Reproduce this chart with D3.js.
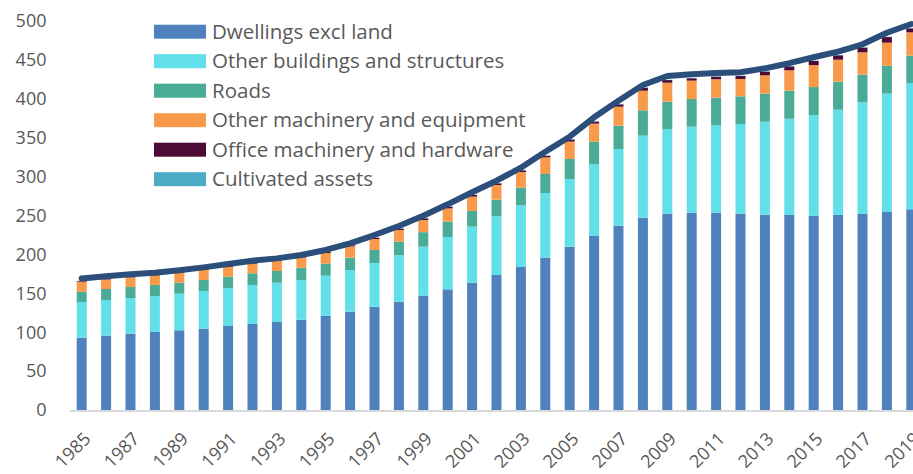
<!DOCTYPE html>
<meta charset="utf-8">
<style>
body { margin: 0; background: #fff; }
svg { display: block; overflow: hidden; }
text { font-family: "Open Sans", sans-serif; fill: #595959; }
</style>
<svg width="913" height="474"></svg>
<script src="https://cdn.jsdelivr.net/npm/d3@7"></script>
<script>

var years = d3.range(1985, 2020);

var dwellings = [93.0, 95.6, 98.2, 100.3, 102.5, 104.6, 108.0, 110.6, 113.2, 116.1, 121.3, 126.4,
  132.9, 139.3, 147.0, 155.2, 163.7, 173.6, 183.9, 195.9, 210.0, 223.8, 237.1, 247.4, 252.5,
  253.7, 253.7, 252.5, 251.2, 250.8, 249.9, 250.8, 252.1, 254.6, 258.1];
var otherBuildings = [45.9, 45.9, 45.8, 46.3, 47.1, 48.4, 48.9, 50.2, 50.5, 51.1, 51.4, 53.6,
  56.1, 60.0, 63.0, 67.3, 72.1, 75.5, 79.3, 83.2, 87.1, 92.5, 98.5, 105.4, 108.9,
  110.7, 112.4, 115.3, 119.6, 123.8, 129.5, 135.4, 143.7, 152.3, 162.4];
var roads = [13.3, 14.1, 14.2, 14.2, 14.1, 14.2, 14.6, 15.0, 15.1, 15.8, 15.5, 15.9,
  16.8, 17.2, 18.7, 19.7, 20.1, 21.4, 22.7, 24.4, 25.7, 28.7, 30.0, 32.6, 35.2,
  35.6, 35.6, 35.6, 36.1, 36.0, 35.9, 36.0, 35.5, 35.9, 35.2];
var otherMachinery = [12.8, 12.4, 12.4, 12.4, 12.5, 12.8, 12.8, 12.4, 13.2, 13.4, 13.7, 14.6,
  14.1, 15.0, 15.6, 17.1, 18.5, 18.9, 20.2, 21.4, 22.4, 23.3, 24.5, 25.2, 24.3,
  23.6, 23.6, 22.3, 23.5, 26.2, 28.2, 28.3, 28.7, 29.6, 30.0];
var officeMachinery = [0.8, 0.8, 0.9, 0.9, 1.0, 1.0, 1.1, 1.1, 1.2, 1.2, 1.3, 1.4,
  1.5, 1.7, 2.2, 2.2, 2.1, 2.1, 2.1, 2.0, 2.6, 2.5, 3.0, 3.8, 3.4,
  3.0, 3.4, 3.8, 4.7, 5.1, 5.3, 5.7, 6.0, 7.2, 5.1];
var cultivated = [0.4, 0.4, 0.4, 0.4, 0.4, 0.4, 0.4, 0.4, 0.4, 0.4, 0.4, 0.4,
  0.4, 0.4, 0.4, 0.4, 0.4, 0.4, 0.4, 0.4, 0.4, 0.4, 0.4, 0.4, 0.4,
  0.4, 0.4, 0.4, 0.4, 0.4, 0.4, 0.4, 0.4, 0.4, 0.4];
var total = [169, 172, 174.5, 176.6, 179.6, 183.4, 187.8, 192, 195, 199.3, 205.8, 214.4,
  225, 236.6, 249.9, 264.5, 280, 294.9, 311.6, 332, 351.5, 376.4, 397.8, 418, 429.5,
  431.7, 433.4, 434.3, 439.4, 446, 453.6, 460.9, 470.3, 485.2, 496.4];

var seriesNames = ["Dwellings excl land", "Other buildings and structures", "Roads",
  "Other machinery and equipment", "Office machinery and hardware", "Cultivated assets"];
var seriesValues = [dwellings, otherBuildings, roads, otherMachinery, officeMachinery, cultivated];
var colors = ["#4f81bd", "#62e0ea", "#4aac96", "#f89a4a", "#4d0a36", "#4bacc6"];
var yTicks = [0, 50, 100, 150, 200, 250, 300, 350, 400, 450, 500];

var svg = d3.select("svg");

var rows = years.map(function(yr, i) {
  var r = { year: yr };
  seriesNames.forEach(function(k, j) { r[k] = seriesValues[j][i]; });
  return r;
});

var x = d3.scaleBand()
    .domain(years)
    .range([69.5, 923.5])
    .paddingInner(0.59)
    .paddingOuter(0.295);

var y = d3.scaleLinear()
    .domain([0, 500])
    .range([410, 21.2]);

var stacked = d3.stack().keys(seriesNames)(rows);

svg.append("g")
  .selectAll("g")
  .data(stacked)
  .enter().append("g")
    .attr("fill", function(d, i) { return colors[i]; })
  .selectAll("rect")
  .data(function(d) { return d; })
  .enter().append("rect")
    .attr("x", function(d) { return x(d.data.year); })
    .attr("y", function(d) { return y(d[1]); })
    .attr("width", x.bandwidth())
    .attr("height", function(d) { return y(d[0]) - y(d[1]); });

// baseline
svg.append("line")
    .attr("x1", 69.5).attr("x2", 923.5)
    .attr("y1", y(0) + 1).attr("y2", y(0) + 1)
    .attr("stroke", "#d9d9d9")
    .attr("stroke-width", 2);

// total line
var line = d3.line()
    .x(function(d, i) { return x(years[i]) + x.bandwidth() / 2; })
    .y(function(d) { return y(d); });

svg.append("path")
    .datum(total)
    .attr("d", line)
    .attr("fill", "none")
    .attr("stroke", "#2b4f7a")
    .attr("stroke-width", 6)
    .attr("stroke-linejoin", "round")
    .attr("stroke-linecap", "round");

// y axis
var yAxis = svg.append("g")
    .attr("transform", "translate(69.5,0)")
    .call(d3.axisLeft(y).tickValues(yTicks).tickSize(0).tickPadding(23));
yAxis.select(".domain").remove();
yAxis.selectAll("text")
    .style("font-size", "18px")
    .style("font-family", "'Open Sans', sans-serif")
    .attr("fill", "#595959");

// x axis labels, every other year
var xAxis = svg.append("g")
    .attr("transform", "translate(0," + 410 + ")")
    .call(d3.axisBottom(x).tickValues(years.filter(function(d, i) { return i % 2 === 0; }))
      .tickSize(0).tickPadding(0));
xAxis.select(".domain").remove();
xAxis.selectAll("text")
    .style("font-size", "18px")
    .style("font-family", "'Open Sans', sans-serif")
    .attr("fill", "#595959")
    .attr("text-anchor", "end")
    .attr("dy", null)
    .attr("y", 0)
    .attr("transform", "translate(10,30) rotate(-45)");

// legend
var legend = svg.append("g")
    .selectAll("g")
    .data(seriesNames)
    .enter().append("g")
    .attr("transform", function(d, i) { return "translate(154," + (31.7 + i * 29.5) + ")"; });

legend.append("rect")
    .attr("x", 0).attr("y", -7)
    .attr("width", 52).attr("height", 14)
    .attr("fill", function(d, i) { return colors[i]; });

legend.append("text")
    .attr("x", 58)
    .attr("dy", "0.35em")
    .style("font-size", "20.5px")
    .text(function(d) { return d; });

</script>
